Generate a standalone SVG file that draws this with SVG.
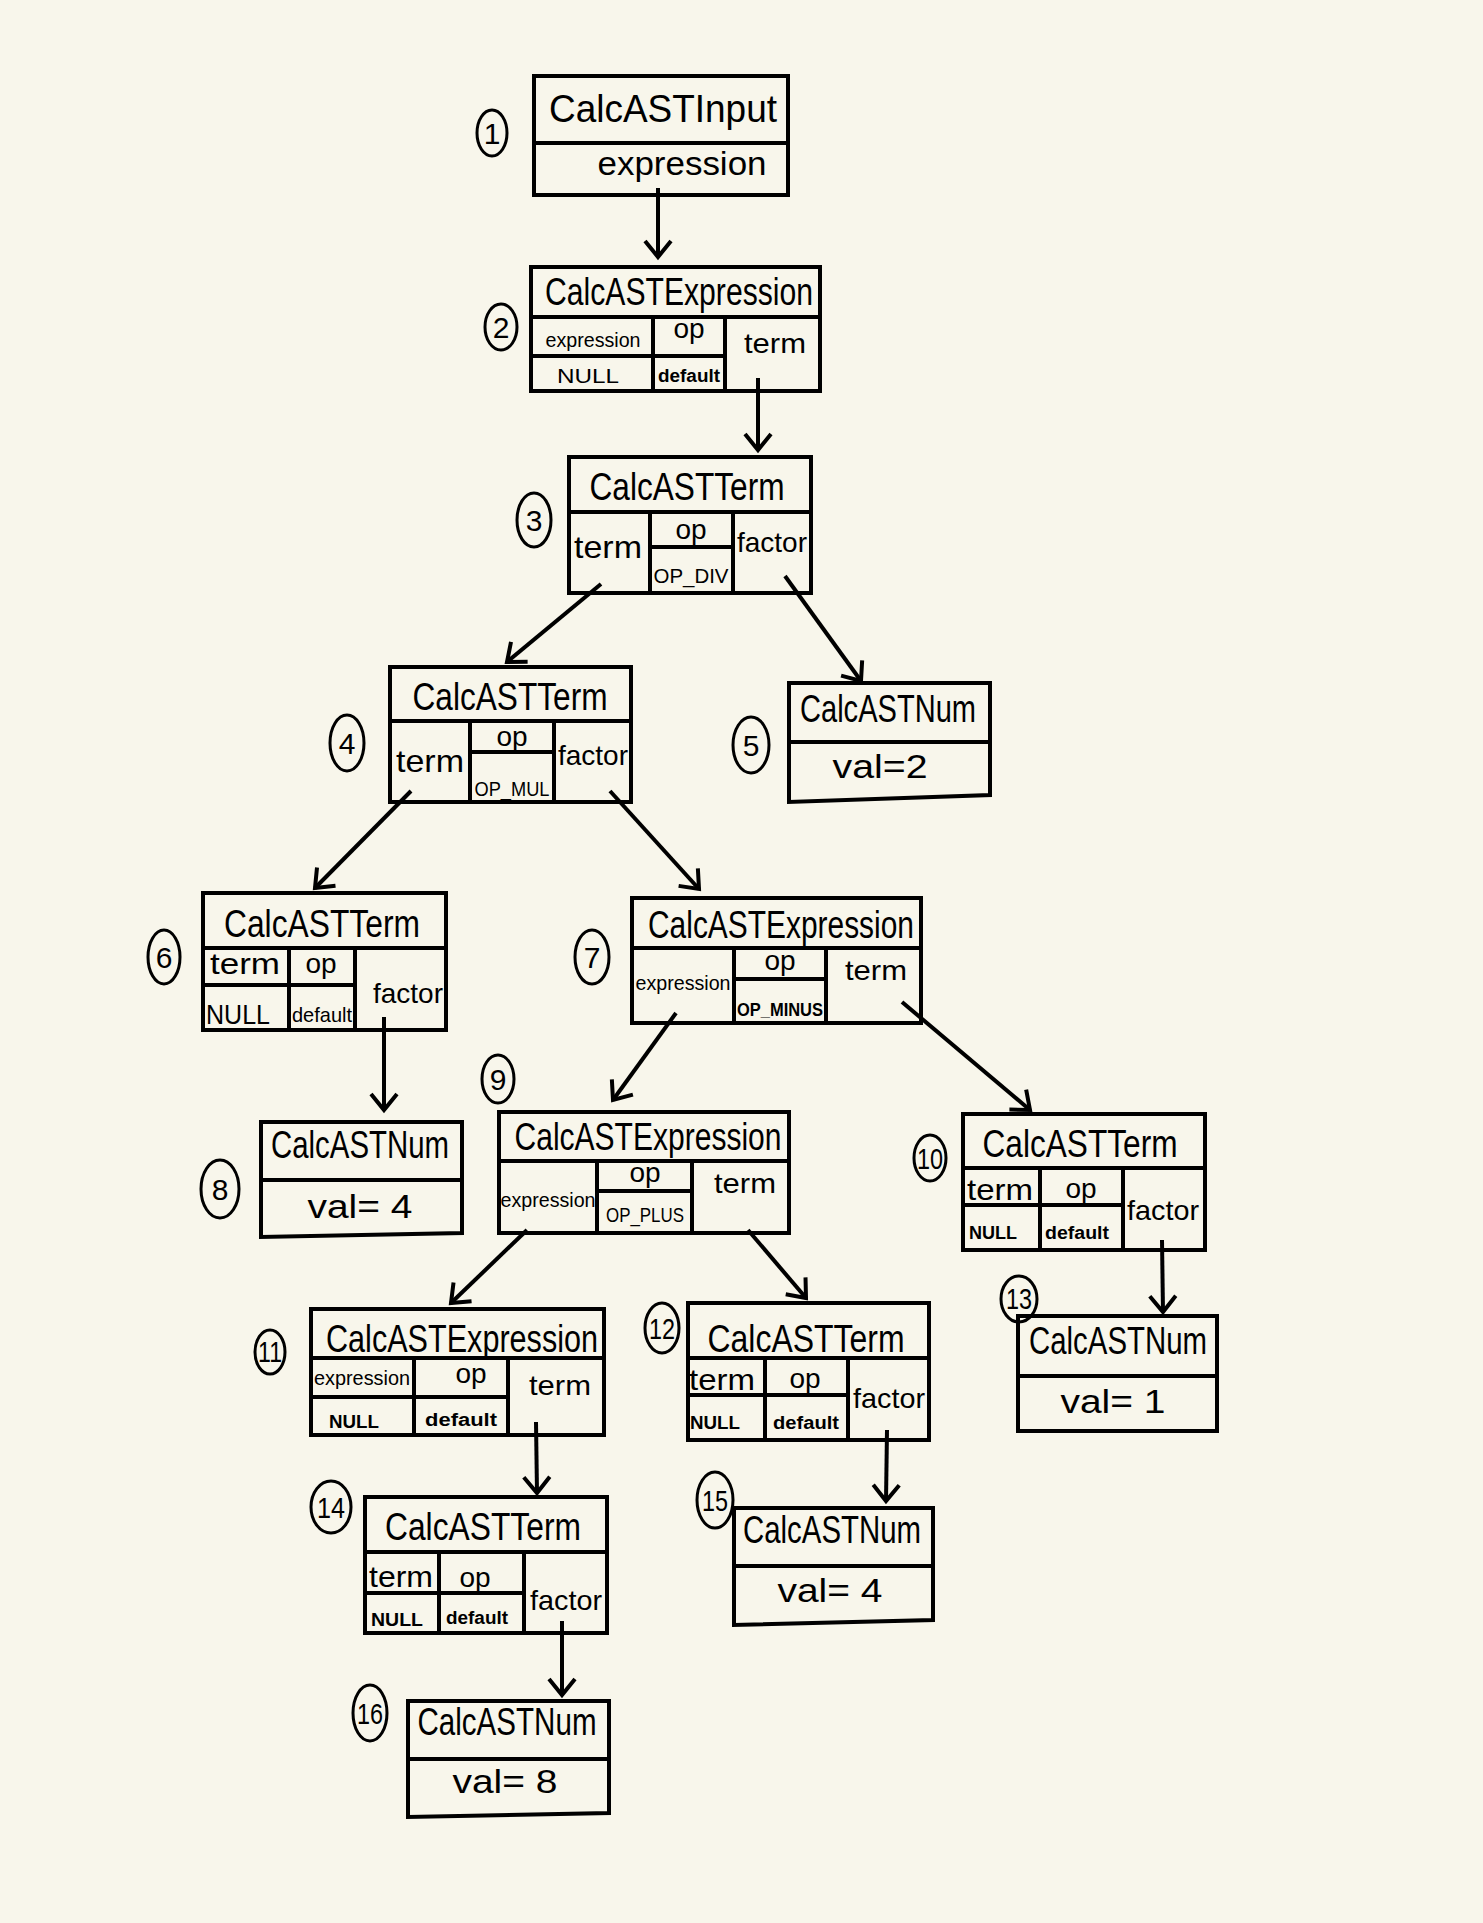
<svg xmlns="http://www.w3.org/2000/svg" width="1483" height="1923" viewBox="0 0 1483 1923">
<defs>
<style>
.b{fill:none;stroke:#000;stroke-width:4;stroke-linejoin:miter;stroke-linecap:square}
.l{fill:none;stroke:#000;stroke-width:4}
.c{fill:none;stroke:#000;stroke-width:3}
text{font-family:"Liberation Sans","DejaVu Sans",sans-serif;text-anchor:middle;fill:#000}
.ti{font-size:38px}
.f{font-size:28px}
.s{font-size:21px}
.x{font-size:18px;font-weight:bold}
.v{font-size:34px}
.n{font-size:30px}
.a{fill:none;stroke:#000;stroke-width:4;marker-end:url(#ah)}
</style>
<marker id="ah" markerUnits="userSpaceOnUse" viewBox="-20 -16 24 32" refX="0" refY="0" markerWidth="24" markerHeight="32" orient="auto">
<path d="M-16,-13 L0,0 L-16,13" fill="none" stroke="#000" stroke-width="4"/>
</marker>
</defs>
<rect width="1483" height="1923" fill="#f8f6eb"/>

<g id="connectors">
<line class="a" x1="658" y1="188" x2="658" y2="257"/>
<line class="a" x1="758" y1="378" x2="758" y2="450"/>
<line class="a" x1="601" y1="584" x2="507" y2="662"/>
<line class="a" x1="785" y1="576" x2="861" y2="681"/>
<line class="a" x1="411" y1="791" x2="315" y2="888"/>
<line class="a" x1="610" y1="791" x2="699" y2="889"/>
<line class="a" x1="384" y1="1017" x2="384" y2="1110"/>
<line class="a" x1="676" y1="1013" x2="613" y2="1100"/>
<line class="a" x1="902" y1="1002" x2="1030" y2="1110"/>
<line class="a" x1="527" y1="1230" x2="451" y2="1303"/>
<line class="a" x1="748" y1="1230" x2="806" y2="1298"/>
<line class="a" x1="1162" y1="1240" x2="1163" y2="1312"/>
<line class="a" x1="536" y1="1422" x2="537" y2="1493"/>
<line class="a" x1="887" y1="1430" x2="886" y2="1501"/>
<line class="a" x1="562" y1="1621" x2="562" y2="1695"/>
</g>

<g id="node1">
<ellipse class="c" cx="492" cy="133" rx="15" ry="23"/><text class="n" x="492" y="144">1</text>
<rect class="b" x="534" y="76" width="254" height="119"/>
<line class="l" x1="534" y1="143" x2="788" y2="143"/>
<text class="ti" x="663" y="122" textLength="228" lengthAdjust="spacingAndGlyphs">CalcASTInput</text>
<text class="v" x="682" y="175" textLength="169" lengthAdjust="spacingAndGlyphs">expression</text>
</g>

<g id="node2">
<ellipse class="c" cx="501" cy="327" rx="16" ry="23"/><text class="n" x="501" y="338">2</text>
<rect class="b" x="531" y="267" width="289" height="124"/>
<line class="l" x1="531" y1="317" x2="820" y2="317"/>
<line class="l" x1="653" y1="317" x2="653" y2="391"/>
<line class="l" x1="725" y1="317" x2="725" y2="391"/>
<line class="l" x1="531" y1="356" x2="725" y2="356"/>
<text class="ti" x="679" y="305" textLength="268" lengthAdjust="spacingAndGlyphs">CalcASTExpression</text>
<text class="s" x="593" y="347" textLength="95" lengthAdjust="spacingAndGlyphs">expression</text>
<text class="s" x="588" y="383" textLength="62" lengthAdjust="spacingAndGlyphs">NULL</text>
<text class="f" x="689" y="338">op</text>
<text class="x" x="689" y="382" textLength="62" lengthAdjust="spacingAndGlyphs">default</text>
<text class="f" x="775" y="353" textLength="62" lengthAdjust="spacingAndGlyphs">term</text>
</g>

<g id="node3">
<ellipse class="c" cx="534" cy="520" rx="17" ry="27"/><text class="n" x="534" y="531">3</text>
<rect class="b" x="569" y="457" width="242" height="136"/>
<line class="l" x1="569" y1="512" x2="811" y2="512"/>
<line class="l" x1="650" y1="512" x2="650" y2="593"/>
<line class="l" x1="733" y1="512" x2="733" y2="593"/>
<line class="l" x1="650" y1="547" x2="733" y2="547"/>
<text class="ti" x="687" y="500" textLength="195" lengthAdjust="spacingAndGlyphs">CalcASTTerm</text>
<text class="ti" x="608" y="558" style="font-size:32px" textLength="68" lengthAdjust="spacingAndGlyphs">term</text>
<text class="f" x="691" y="539">op</text>
<text class="s" x="691" y="583" textLength="75" lengthAdjust="spacingAndGlyphs">OP_DIV</text>
<text class="f" x="772" y="552" textLength="70" lengthAdjust="spacingAndGlyphs">factor</text>
</g>

<g id="node4">
<ellipse class="c" cx="347" cy="743" rx="17" ry="28"/><text class="n" x="347" y="754">4</text>
<rect class="b" x="390" y="667" width="241" height="135"/>
<line class="l" x1="390" y1="721" x2="631" y2="721"/>
<line class="l" x1="470" y1="721" x2="470" y2="802"/>
<line class="l" x1="554" y1="721" x2="554" y2="802"/>
<line class="l" x1="470" y1="752" x2="554" y2="752"/>
<text class="ti" x="510" y="710" textLength="195" lengthAdjust="spacingAndGlyphs">CalcASTTerm</text>
<text class="ti" x="430" y="772" style="font-size:32px" textLength="68" lengthAdjust="spacingAndGlyphs">term</text>
<text class="f" x="512" y="746">op</text>
<text class="s" x="512" y="796" textLength="75" lengthAdjust="spacingAndGlyphs">OP_MUL</text>
<text class="f" x="593" y="765" textLength="70" lengthAdjust="spacingAndGlyphs">factor</text>
</g>

<g id="node5">
<ellipse class="c" cx="751" cy="745" rx="18" ry="28"/><text class="n" x="751" y="756">5</text>
<path class="b" d="M789,683 L990,683 L990,795 L789,802 Z"/>
<line class="l" x1="789" y1="742" x2="990" y2="742"/>
<text class="ti" x="888" y="722" textLength="176" lengthAdjust="spacingAndGlyphs">CalcASTNum</text>
<text class="v" x="880" y="778" textLength="95" lengthAdjust="spacingAndGlyphs">val=2</text>
</g>

<g id="node6">
<ellipse class="c" cx="164" cy="957" rx="16" ry="27"/><text class="n" x="164" y="968">6</text>
<rect class="b" x="203" y="893" width="243" height="137"/>
<line class="l" x1="203" y1="948" x2="446" y2="948"/>
<line class="l" x1="289" y1="948" x2="289" y2="1030"/>
<line class="l" x1="355" y1="948" x2="355" y2="1030"/>
<line class="l" x1="203" y1="985" x2="355" y2="985"/>
<text class="ti" x="322" y="937" textLength="196" lengthAdjust="spacingAndGlyphs">CalcASTTerm</text>
<text class="f" x="245" y="974" style="font-size:30px" textLength="70" lengthAdjust="spacingAndGlyphs">term</text>
<text class="f" x="321" y="973">op</text>
<text class="f" x="238" y="1024" textLength="64" lengthAdjust="spacingAndGlyphs">NULL</text>
<text class="s" x="322" y="1022" textLength="60" lengthAdjust="spacingAndGlyphs">default</text>
<text class="f" x="408" y="1003" textLength="70" lengthAdjust="spacingAndGlyphs">factor</text>
</g>

<g id="node7">
<ellipse class="c" cx="592" cy="957" rx="17" ry="27"/><text class="n" x="592" y="968">7</text>
<rect class="b" x="632" y="898" width="289" height="125"/>
<line class="l" x1="632" y1="948" x2="921" y2="948"/>
<line class="l" x1="734" y1="948" x2="734" y2="1023"/>
<line class="l" x1="826" y1="948" x2="826" y2="1023"/>
<line class="l" x1="734" y1="979" x2="826" y2="979"/>
<text class="ti" x="781" y="938" textLength="266" lengthAdjust="spacingAndGlyphs">CalcASTExpression</text>
<text class="s" x="683" y="990" textLength="95" lengthAdjust="spacingAndGlyphs">expression</text>
<text class="f" x="780" y="970">op</text>
<text class="x" x="780" y="1016" textLength="86" lengthAdjust="spacingAndGlyphs">OP_MINUS</text>
<text class="f" x="876" y="980" textLength="62" lengthAdjust="spacingAndGlyphs">term</text>
</g>

<g id="node8">
<ellipse class="c" cx="220" cy="1189" rx="19" ry="29"/><text class="n" x="220" y="1200">8</text>
<path class="b" d="M261,1122 L462,1122 L462,1233 L261,1237 Z"/>
<line class="l" x1="261" y1="1180" x2="462" y2="1180"/>
<text class="ti" x="360" y="1158" textLength="178" lengthAdjust="spacingAndGlyphs">CalcASTNum</text>
<text class="v" x="360" y="1218" textLength="105" lengthAdjust="spacingAndGlyphs">val= 4</text>
</g>

<g id="node9">
<ellipse class="c" cx="498" cy="1079" rx="16" ry="24"/><text class="n" x="498" y="1090">9</text>
<rect class="b" x="499" y="1112" width="290" height="121"/>
<line class="l" x1="499" y1="1161" x2="789" y2="1161"/>
<line class="l" x1="597" y1="1161" x2="597" y2="1233"/>
<line class="l" x1="692" y1="1161" x2="692" y2="1233"/>
<line class="l" x1="597" y1="1191" x2="692" y2="1191"/>
<text class="ti" x="648" y="1150" textLength="267" lengthAdjust="spacingAndGlyphs">CalcASTExpression</text>
<text class="s" x="548" y="1207" textLength="95" lengthAdjust="spacingAndGlyphs">expression</text>
<text class="f" x="645" y="1182">op</text>
<text class="s" x="645" y="1222" textLength="78" lengthAdjust="spacingAndGlyphs">OP_PLUS</text>
<text class="f" x="745" y="1193" textLength="62" lengthAdjust="spacingAndGlyphs">term</text>
</g>

<g id="node10">
<ellipse class="c" cx="930" cy="1158" rx="16" ry="23"/><text class="n" x="930" y="1169" textLength="26" lengthAdjust="spacingAndGlyphs">10</text>
<rect class="b" x="963" y="1114" width="242" height="136"/>
<line class="l" x1="963" y1="1168" x2="1205" y2="1168"/>
<line class="l" x1="1040" y1="1168" x2="1040" y2="1250"/>
<line class="l" x1="1123" y1="1168" x2="1123" y2="1250"/>
<line class="l" x1="963" y1="1205" x2="1123" y2="1205"/>
<text class="ti" x="1080" y="1157" textLength="195" lengthAdjust="spacingAndGlyphs">CalcASTTerm</text>
<text class="f" x="1000" y="1200" style="font-size:30px" textLength="66" lengthAdjust="spacingAndGlyphs">term</text>
<text class="f" x="1081" y="1198">op</text>
<text class="x" x="993" y="1239" textLength="48" lengthAdjust="spacingAndGlyphs">NULL</text>
<text class="x" x="1077" y="1239" textLength="64" lengthAdjust="spacingAndGlyphs">default</text>
<text class="f" x="1163" y="1220" textLength="72" lengthAdjust="spacingAndGlyphs">factor</text>
</g>

<g id="node11">
<ellipse class="c" cx="270" cy="1352" rx="15" ry="22"/><text class="n" x="270" y="1362" textLength="24" lengthAdjust="spacingAndGlyphs">11</text>
<rect class="b" x="311" y="1309" width="293" height="126"/>
<line class="l" x1="311" y1="1358" x2="604" y2="1358"/>
<line class="l" x1="414" y1="1358" x2="414" y2="1435"/>
<line class="l" x1="508" y1="1358" x2="508" y2="1435"/>
<line class="l" x1="311" y1="1397" x2="508" y2="1397"/>
<text class="ti" x="462" y="1352" textLength="272" lengthAdjust="spacingAndGlyphs">CalcASTExpression</text>
<text class="s" x="362" y="1385" textLength="96" lengthAdjust="spacingAndGlyphs">expression</text>
<text class="f" x="471" y="1383">op</text>
<text class="x" x="354" y="1428" textLength="50" lengthAdjust="spacingAndGlyphs">NULL</text>
<text class="x" x="461" y="1426" textLength="72" lengthAdjust="spacingAndGlyphs">default</text>
<text class="f" x="560" y="1395" textLength="62" lengthAdjust="spacingAndGlyphs">term</text>
</g>

<g id="node12">
<ellipse class="c" cx="662" cy="1328" rx="17" ry="25"/><text class="n" x="662" y="1339" textLength="26" lengthAdjust="spacingAndGlyphs">12</text>
<rect class="b" x="688" y="1303" width="241" height="137"/>
<line class="l" x1="688" y1="1358" x2="929" y2="1358"/>
<line class="l" x1="765" y1="1358" x2="765" y2="1440"/>
<line class="l" x1="848" y1="1358" x2="848" y2="1440"/>
<line class="l" x1="688" y1="1395" x2="848" y2="1395"/>
<text class="ti" x="806" y="1352" textLength="197" lengthAdjust="spacingAndGlyphs">CalcASTTerm</text>
<text class="f" x="722" y="1390" style="font-size:30px" textLength="66" lengthAdjust="spacingAndGlyphs">term</text>
<text class="f" x="805" y="1388">op</text>
<text class="x" x="715" y="1429" textLength="50" lengthAdjust="spacingAndGlyphs">NULL</text>
<text class="x" x="806" y="1429" textLength="66" lengthAdjust="spacingAndGlyphs">default</text>
<text class="f" x="889" y="1408" textLength="72" lengthAdjust="spacingAndGlyphs">factor</text>
</g>

<g id="node13">
<ellipse class="c" cx="1019" cy="1299" rx="18" ry="23"/><text class="n" x="1019" y="1309" textLength="26" lengthAdjust="spacingAndGlyphs">13</text>
<rect class="b" x="1018" y="1316" width="199" height="115"/>
<line class="l" x1="1018" y1="1376" x2="1217" y2="1376"/>
<text class="ti" x="1118" y="1354" textLength="178" lengthAdjust="spacingAndGlyphs">CalcASTNum</text>
<text class="v" x="1113" y="1413" textLength="105" lengthAdjust="spacingAndGlyphs">val= 1</text>
</g>

<g id="node14">
<ellipse class="c" cx="331" cy="1507" rx="20" ry="26"/><text class="n" x="331" y="1518" textLength="28" lengthAdjust="spacingAndGlyphs">14</text>
<rect class="b" x="365" y="1497" width="242" height="136"/>
<line class="l" x1="365" y1="1552" x2="607" y2="1552"/>
<line class="l" x1="439" y1="1552" x2="439" y2="1633"/>
<line class="l" x1="524" y1="1552" x2="524" y2="1633"/>
<line class="l" x1="365" y1="1593" x2="524" y2="1593"/>
<text class="ti" x="483" y="1540" textLength="196" lengthAdjust="spacingAndGlyphs">CalcASTTerm</text>
<text class="f" x="401" y="1587" style="font-size:30px" textLength="64" lengthAdjust="spacingAndGlyphs">term</text>
<text class="f" x="475" y="1587">op</text>
<text class="x" x="397" y="1626" textLength="52" lengthAdjust="spacingAndGlyphs">NULL</text>
<text class="x" x="477" y="1624" textLength="62" lengthAdjust="spacingAndGlyphs">default</text>
<text class="f" x="566" y="1610" textLength="72" lengthAdjust="spacingAndGlyphs">factor</text>
</g>

<g id="node15">
<ellipse class="c" cx="715" cy="1500" rx="18" ry="28"/><text class="n" x="715" y="1511" textLength="26" lengthAdjust="spacingAndGlyphs">15</text>
<path class="b" d="M734,1508 L933,1508 L933,1620 L734,1625 Z"/>
<line class="l" x1="734" y1="1566" x2="933" y2="1566"/>
<text class="ti" x="832" y="1543" textLength="178" lengthAdjust="spacingAndGlyphs">CalcASTNum</text>
<text class="v" x="830" y="1602" textLength="105" lengthAdjust="spacingAndGlyphs">val= 4</text>
</g>

<g id="node16">
<ellipse class="c" cx="370" cy="1713" rx="17" ry="28"/><text class="n" x="370" y="1724" textLength="26" lengthAdjust="spacingAndGlyphs">16</text>
<path class="b" d="M408,1701 L609,1701 L609,1813 L408,1817 Z"/>
<line class="l" x1="408" y1="1759" x2="609" y2="1759"/>
<text class="ti" x="507" y="1735" textLength="179" lengthAdjust="spacingAndGlyphs">CalcASTNum</text>
<text class="v" x="505" y="1793" textLength="105" lengthAdjust="spacingAndGlyphs">val= 8</text>
</g>
</svg>
